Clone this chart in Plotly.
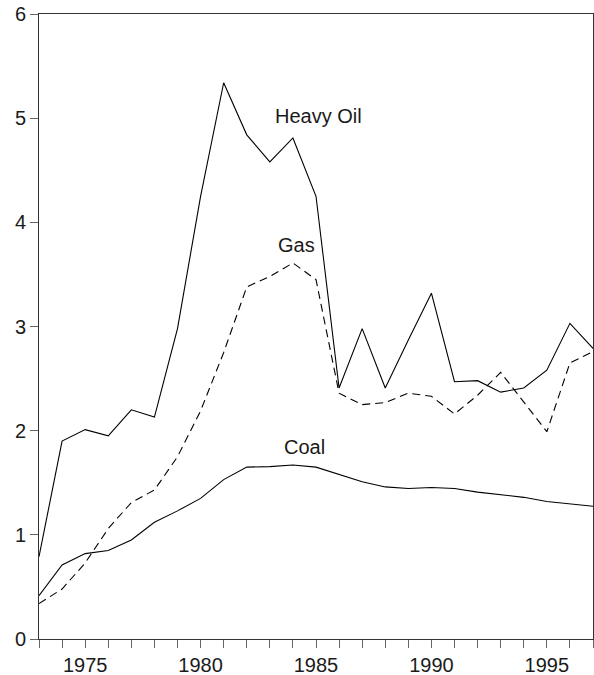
import plotly.graph_objects as go

years = list(range(1973, 1998))

heavy_oil = [0.79, 1.90, 2.01, 1.95, 2.20, 2.13, 2.98, 4.25, 5.34, 4.84, 4.58, 4.81, 4.25,
             2.41, 2.98, 2.41, 2.87, 3.32, 2.47, 2.48, 2.37, 2.41, 2.58, 3.03, 2.79]
gas = [0.34, 0.48, 0.73, 1.06, 1.31, 1.43, 1.75, 2.19, 2.75, 3.38, 3.48, 3.61, 3.45,
       2.36, 2.25, 2.27, 2.36, 2.33, 2.16, 2.34, 2.56, 2.28, 1.99, 2.65, 2.76]
coal = [0.415, 0.71, 0.82, 0.85, 0.95, 1.12, 1.23, 1.35, 1.53, 1.65, 1.655, 1.67, 1.65,
        1.58, 1.51, 1.46, 1.445, 1.455, 1.445, 1.41, 1.385, 1.36, 1.32, 1.295, 1.275]

labels = ["Heavy Oil", "Gas", "Coal"]
label_x = [1985.09, 1984.14, 1984.48]
label_y = [5.02, 3.78, 1.845]

tick_text = [str(y) if y % 5 == 0 else "" for y in years]

fig = go.Figure()
fig.add_scatter(x=years, y=heavy_oil, mode="lines", line=dict(color="black", width=1.1))
fig.add_scatter(x=years, y=gas, mode="lines", line=dict(color="black", width=1.1, dash="8px,5px"))
fig.add_scatter(x=years, y=coal, mode="lines", line=dict(color="black", width=1.1))

for txt, lx, ly in zip(labels, label_x, label_y):
    fig.add_annotation(x=lx, y=ly, text=txt, showarrow=False,
                       font=dict(size=20, color="#1a1a1a"))

axis_style = dict(showline=True, linecolor="#333", linewidth=1, mirror=True,
                  ticks="outside", ticklen=8, tickcolor="#666", tickwidth=1,
                  showgrid=False, zeroline=False, automargin=False,
                  tickfont=dict(size=20, color="#1a1a1a"))

fig.update_xaxes(range=[1973, 1997], tickvals=years, ticktext=tick_text, **axis_style)
fig.update_yaxes(range=[0, 6], dtick=1, **axis_style)

fig.update_layout(
    width=594, height=675,
    margin=dict(l=39, r=1, t=14, b=36),
    plot_bgcolor="white", paper_bgcolor="white",
    showlegend=False,
    font=dict(family="Liberation Sans, Arial, sans-serif", color="#1a1a1a"),
)

# drop the default page margin so the figure sits at the window corner
fig.write_html("out.html", config={"displayModeBar": False},
               post_script="document.body.style.margin='0';")
